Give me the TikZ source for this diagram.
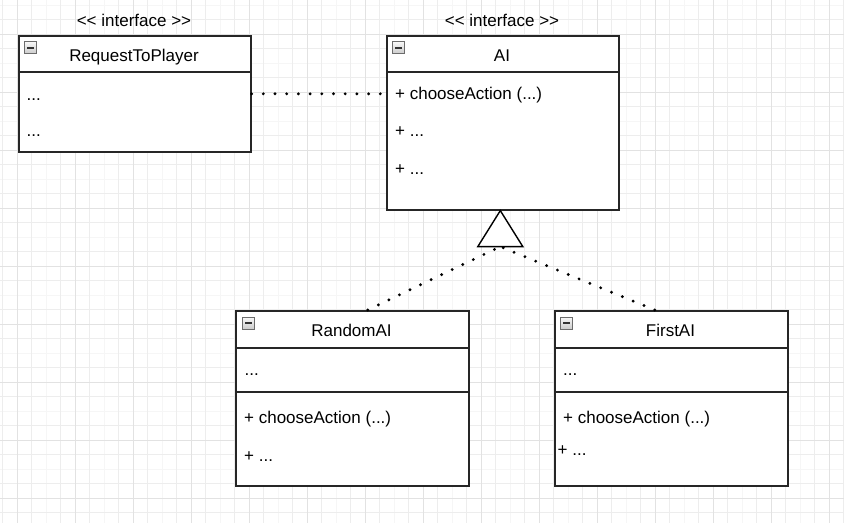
\documentclass[tikz,border=0pt]{standalone}
\usepackage{fontspec}
\setmainfont{Liberation Sans}
\definecolor{gridmajor}{RGB}{226,226,226}
\definecolor{gridminor}{RGB}{237,237,237}
\definecolor{gridfaint}{RGB}{246,246,246}
\begin{document}
\begin{tikzpicture}[x=1pt,y=-1pt,
  every node/.style={font=\fontsize{17}{20}\selectfont, inner sep=0pt},
  umlbox/.style={draw=black!85, line width=1.6pt, fill=white, anchor=north west},
  divider/.style={draw=black!85, line width=1.6pt},
  txt/.style={anchor=base west},
  ttl/.style={anchor=base},
  dotline/.style={line width=3.2pt, line cap=round, dash pattern=on 0pt off 11.7pt},
  minusicon/.style={draw=gray!85!black, line width=0.6pt, top color=gray!5, bottom color=gray!40,
    minimum size=12pt, inner sep=0pt,
    path picture={\fill[black!80] ([xshift=2.5pt,yshift=-1pt]path picture bounding box.west) rectangle ([xshift=-2.5pt,yshift=1pt]path picture bounding box.east);}},
  realization/.style={draw=black, line width=1.4pt, fill=white, line join=miter}
]
\useasboundingbox (0,0) rectangle (844,523);
\fill[white] (0,0) rectangle (844,523);
% grid
\foreach \k in {0,...,13} \draw[gridfaint, line width=0.8pt] ({46.3+58*\k},0) -- ++(0,523);
\foreach \k in {0,...,8} \draw[gridfaint, line width=0.8pt] (0,{5.3+58*\k}) -- ++(844,0);
\foreach \k in {0,...,29} \draw[gridminor, line width=0.8pt] ({2.8+29*\k},0) -- ++(0,523);
\foreach \k in {0,...,17} \draw[gridminor, line width=0.8pt] (0,{19.8+29*\k}) -- ++(844,0);
\foreach \k in {0,...,14} \draw[gridmajor, line width=0.8pt] ({17.3+58*\k},0) -- ++(0,523);
\foreach \k in {0,...,8} \draw[gridmajor, line width=0.8pt] (0,{34.3+58*\k}) -- ++(844,0);

% boxes
\node[umlbox, minimum width=232pt, minimum height=116pt] (rtp) at (18,35) {};
\node[umlbox, minimum width=232pt, minimum height=174pt] (ai) at (386,35) {};
\node[umlbox, minimum width=233pt, minimum height=175pt] (rand) at (235,310) {};
\node[umlbox, minimum width=233pt, minimum height=175pt] (first) at (554,310) {};

% dividers
\draw[divider] ([yshift=-37pt]rtp.north west) -- ([yshift=-37pt]rtp.north east);
\draw[divider] ([yshift=-37pt]ai.north west) -- ([yshift=-37pt]ai.north east);
\draw[divider] ([yshift=-38pt]rand.north west) -- ([yshift=-38pt]rand.north east);
\draw[divider] ([yshift=-82pt]rand.north west) -- ([yshift=-82pt]rand.north east);
\draw[divider] ([yshift=-38pt]first.north west) -- ([yshift=-38pt]first.north east);
\draw[divider] ([yshift=-82pt]first.north west) -- ([yshift=-82pt]first.north east);

% icons
\node[minusicon] (i1) at (30.5,47.5) {};
\node[minusicon] (i2) at (398.5,47.5) {};
\node[minusicon] (i3) at (248,323) {};
\node[minusicon] (i4) at (566.7,323) {};

% stereotypes
\node[ttl] (s1) at (134,26.5) {{<}{<} interface {>}{>}};
\node[ttl] (s2) at (502,26.5) {{<}{<} interface {>}{>}};

% titles
\node[ttl] (t1) at (134,61) {RequestToPlayer};
\node[ttl] (t2) at (502,61) {AI};
\node[ttl] (t3) at (351.5,336) {RandomAI};
\node[ttl] (t4) at (670.5,336) {FirstAI};

% members
\node[txt] (r1) at (26.5,100) {...};
\node[txt] (r2) at (26.5,136) {...};
\node[txt] (a1) at (395,99) {+ chooseAction (...)};
\node[txt] (a2) at (395,136) {+ ...};
\node[txt] (a3) at (395,174) {+ ...};
\node[txt] (d1) at (244.5,375) {...};
\node[txt] (d2) at (244,423) {+ chooseAction (...)};
\node[txt] (d3) at (244,461) {+ ...};
\node[txt] (f1) at (563,375) {...};
\node[txt] (f2) at (563,423) {+ chooseAction (...)};
\node[txt] (f3) at (557.5,455) {+ ...};

% connectors
\draw[dotline] (rtp.east) -- (rtp.east -| ai.west);
\coordinate (tip) at ([xshift=-2.5pt]ai.south);
\coordinate (tribase) at ([xshift=-2.5pt,yshift=-36pt]ai.south);
\coordinate (randtop) at ([xshift=15.5pt]rand.north);
\coordinate (firsttop) at ([xshift=-16.5pt]first.north);
\draw[dotline] (randtop) -- (tribase);
\draw[dotline] (firsttop) -- (tribase);
\draw[realization] (tip) -- ([xshift=-22.5pt]tribase) -- ([xshift=22.5pt]tribase) -- cycle;
\end{tikzpicture}
\end{document}
